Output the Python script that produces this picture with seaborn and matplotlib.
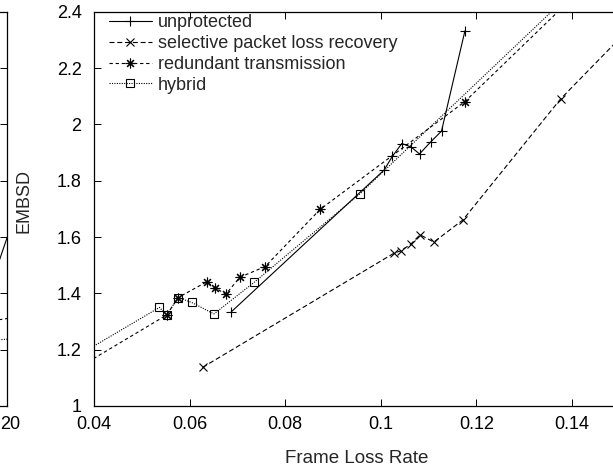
import numpy as np
import pandas as pd
import matplotlib
matplotlib.use("Agg")
import matplotlib.pyplot as plt
import matplotlib.transforms as mtransforms
import seaborn as sns

# ---------------- data ----------------
unprot_x = [0.0687, 0.1007, 0.1024, 0.1044, 0.1063, 0.1081, 0.1104, 0.1127, 0.1176]
unprot_y = [1.334, 1.838, 1.886, 1.932, 1.920, 1.895, 1.937, 1.976, 2.332]

select_x = [0.0627, 0.1028, 0.1042, 0.1063, 0.1082, 0.1111, 0.1172, 0.1376, 0.1560]
select_y = [1.137, 1.543, 1.551, 1.575, 1.608, 1.582, 1.661, 2.090, 2.410]

redund_x = [0.0200, 0.0552, 0.0576, 0.0636, 0.0653, 0.0676, 0.0705, 0.0758, 0.0873, 0.1176, 0.1450]
redund_y = [0.967, 1.323, 1.385, 1.441, 1.420, 1.397, 1.457, 1.495, 1.698, 2.081, 2.530]

hybrid_x = [0.0200, 0.0537, 0.0552, 0.0576, 0.0604, 0.0651, 0.0735, 0.0956, 0.1450]
hybrid_y = [1.013, 1.350, 1.323, 1.385, 1.368, 1.327, 1.439, 1.753, 2.550]

x_ticks = [0.04, 0.06, 0.08, 0.1, 0.12, 0.14]
x_tick_labels = ["0.04", "0.06", "0.08", "0.1", "0.12", "0.14"]
y_ticks = [1.0, 1.2, 1.4, 1.6, 1.8, 2.0, 2.2, 2.4]
y_tick_labels = ["1", "1.2", "1.4", "1.6", "1.8", "2", "2.2", "2.4"]

# fragment of the neighbouring (cropped) chart on the left
nb_solid_x = [18.0, 20.5]
nb_solid_y = [1.213, 1.693]
nb_dash_x = [14.0, 20.5]
nb_dash_y = [1.255, 1.315]
nb_dot_x = [14.0, 20.5]
nb_dot_y = [1.205, 1.240]
nb_x_ticks = [20]
nb_x_tick_labels = ["20"]

# ---------------- style ----------------
sns.set_theme(style="white")
plt.rcParams["font.family"] = ["Liberation Sans", "DejaVu Sans"]
plt.rcParams["axes.linewidth"] = 0.9
FS = 13

W, H = 613, 472
fig = plt.figure(figsize=(W / 100, H / 100), dpi=100)

# main axes geometry in pixels
left_px, top_px, bottom_px = 94, 11.7, 406
px_per_x = 4780.0
xmin, xmax = 0.04, 0.16
ax_w = (xmax - xmin) * px_per_x
ax = fig.add_axes([left_px / W, (H - bottom_px) / H, ax_w / W, (bottom_px - top_px) / H])

line_kw = dict(color="black", lw=0.8, sort=False, estimator=None,
               markeredgecolor="black", markeredgewidth=0.8)

sns.lineplot(x=unprot_x, y=unprot_y, ax=ax, linestyle="-", marker="+",
             markersize=7.5, label="unprotected", **line_kw)
sns.lineplot(x=select_x, y=select_y, ax=ax, linestyle=(0, (4.5, 2.5)), marker="x",
             markersize=6, label="selective packet loss recovery", **line_kw)
sns.lineplot(x=redund_x, y=redund_y, ax=ax, linestyle=(0, (3, 2.5)), marker=(8, 2, 0),
             markersize=7, label="redundant transmission", **line_kw)
sns.lineplot(x=hybrid_x, y=hybrid_y, ax=ax, linestyle=(0, (1, 1.2)), marker="s",
             markersize=6, markerfacecolor="none", label="hybrid", **line_kw)

ax.set_xlim(xmin, xmax)
ax.set_ylim(1.0, 2.4)
ax.set_xticks(x_ticks)
ax.set_xticklabels(x_tick_labels, fontsize=FS)
ax.set_yticks(y_ticks)
ax.set_yticklabels(y_tick_labels, fontsize=FS)
ax.tick_params(direction="in", length=5, width=0.7, top=True, right=True,
               bottom=True, left=True, colors="black")
ax.tick_params(axis="y", pad=9)
ax.tick_params(axis="x", pad=7)
for s in ax.spines.values():
    s.set_color("black")
    s.set_visible(True)

ax.set_xlabel("Frame Loss Rate", fontsize=FS + 0.5)
ax.xaxis.set_label_coords((357 - left_px) / ax_w, -0.112)
ax.set_ylabel("EMBSD", fontsize=FS)
ax.yaxis.set_label_coords((33 - left_px) / ax_w, 0.52)

leg = ax.legend(loc="upper left", bbox_to_anchor=((107 - left_px) / ax_w, 0.999),
                frameon=False, fontsize=FS, handlelength=2.4, handletextpad=0.3,
                labelspacing=0.22, borderpad=0.1, borderaxespad=0, numpoints=1)

# neighbouring chart fragment
nb_w = 0.6
ax2 = fig.add_axes([7 / W - nb_w, (H - bottom_px) / H, nb_w, (bottom_px - top_px) / H])
sns.lineplot(x=nb_solid_x, y=nb_solid_y, ax=ax2, color="black", lw=0.8, linestyle="-",
             sort=False, estimator=None)
sns.lineplot(x=nb_dash_x, y=nb_dash_y, ax=ax2, color="black", lw=0.8,
             linestyle=(0, (3, 2.5)), sort=False, estimator=None)
sns.lineplot(x=nb_dot_x, y=nb_dot_y, ax=ax2, color="black", lw=0.8,
             linestyle=(0, (1, 1.2)), sort=False, estimator=None)
ax2.set_xlim(0, 20)
ax2.set_ylim(1.0, 2.4)
ax2.set_xticks(nb_x_ticks)
ax2.set_xticklabels(nb_x_tick_labels, fontsize=FS)
ax2.set_yticks(y_ticks)
ax2.set_yticklabels([])
ax2.tick_params(direction="in", length=5, width=0.7, right=True, left=True,
                colors="black")
ax2.tick_params(axis="x", pad=7)
offset = mtransforms.ScaledTranslation(3 / 100, 0, fig.dpi_scale_trans)
for lbl in ax2.get_xticklabels():
    lbl.set_transform(lbl.get_transform() + offset)
for s in ax2.spines.values():
    s.set_color("black")

fig.savefig("out.png", dpi=100)
